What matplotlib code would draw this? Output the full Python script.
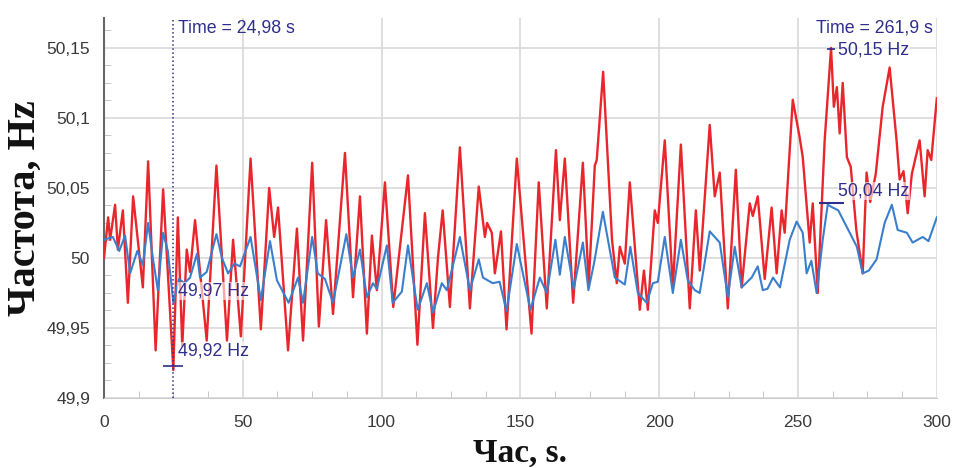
import numpy as np
import matplotlib
matplotlib.use("Agg")
import matplotlib.pyplot as plt
from matplotlib.ticker import MultipleLocator, FuncFormatter

# red trace (peaks / troughs)
t_red = [0.0, 1.5, 2.2, 4.0, 5.0, 6.8, 8.6, 10.5, 14.0, 15.9, 18.6, 21.3, 24.98, 26.6, 28.2, 29.8,
         31.0, 32.8, 37.0, 40.5, 44.3, 46.5, 49.3, 52.8, 56.5, 59.5, 61.3, 62.7, 66.3, 69.5, 71.7,
         75.0, 77.4, 80.0, 82.5, 86.8, 89.7, 92.2, 94.7, 96.5, 98.3, 101.2, 104.2, 109.5, 112.9,
         115.6, 118.5, 120.3, 122.0, 124.6, 128.2, 131.8, 135.0, 137.2, 138.0, 139.7, 140.8, 143.0,
         145.0, 148.7, 154.0, 156.6, 159.5, 162.8, 164.2, 166.0, 169.0, 172.5, 174.6, 176.8, 177.5,
         179.8, 183.0, 184.7, 185.8, 187.6, 189.4, 193.0, 194.5, 195.9, 198.4, 199.5, 202.0, 204.9,
         207.8, 211.0, 213.2, 214.6, 218.2, 220.0, 221.8, 224.7, 227.6, 229.7, 232.6, 233.7, 235.5,
         238.0, 240.5, 242.3, 244.1, 245.2, 248.1, 250.6, 251.7, 254.2, 255.3, 257.1, 259.6, 261.9,
         262.9, 264.0, 265.0, 266.1, 267.6, 269.0, 271.0, 273.3, 274.7, 276.0, 278.0, 280.5, 283.0,
         285.5, 286.6, 288.0, 289.5, 291.0, 293.8, 295.6, 296.7, 298.0, 300.0]
f_red = [50.000, 50.029, 50.013, 50.038, 50.006, 50.034, 49.968, 50.044, 49.979, 50.069, 49.934,
         50.049, 49.920, 50.029, 49.937, 50.006, 49.990, 50.027, 49.941, 50.066, 49.941, 50.013,
         49.944, 50.071, 49.949, 50.050, 50.015, 50.036, 49.934, 50.021, 49.941, 50.068, 49.951,
         50.027, 49.960, 50.075, 49.972, 50.044, 49.946, 50.016, 49.977, 50.054, 49.965, 50.059,
         49.938, 50.032, 49.950, 50.000, 50.034, 49.965, 50.079, 49.964, 50.051, 50.015, 50.025,
         50.018, 49.989, 50.019, 49.949, 50.071, 49.946, 50.054, 49.964, 50.077, 50.027, 50.071,
         49.968, 50.068, 49.981, 50.066, 50.070, 50.133, 50.013, 49.982, 50.008, 49.996, 50.054,
         49.963, 49.991, 49.963, 50.034, 50.025, 50.084, 49.979, 50.081, 49.964, 50.034, 49.991,
         50.095, 50.044, 50.061, 49.964, 50.063, 49.979, 50.039, 50.030, 50.044, 49.985, 50.036,
         49.989, 50.034, 50.018, 50.113, 50.086, 50.072, 50.011, 50.039, 49.975, 50.084, 50.150,
         50.108, 50.122, 50.089, 50.125, 50.072, 50.065, 50.020, 49.989, 50.061, 50.040, 50.060,
         50.108, 50.136, 50.084, 50.056, 50.062, 50.032, 50.060, 50.084, 50.044, 50.077, 50.070,
         50.114]

# blue trace
t_blue = [0.0, 3.2, 5.5, 7.6, 9.4, 12.0, 14.0, 15.9, 17.6, 19.4, 21.3, 23.0, 24.98, 27.0, 29.0, 31.0,
          33.5, 34.6, 37.0, 40.5, 42.5, 44.7, 47.0, 49.0, 52.8, 56.5, 59.8, 62.3, 66.5, 69.9, 71.7,
          75.0, 77.0, 79.6, 82.5, 87.3, 89.7, 92.2, 94.7, 96.9, 98.3, 101.9, 104.0, 107.3, 109.5,
          113.0, 116.3, 118.5, 121.7, 123.5, 128.2, 131.8, 135.0, 136.5, 140.0, 142.5, 145.0, 148.7,
          153.6, 157.0, 159.5, 162.6, 164.2, 166.0, 169.2, 172.5, 174.5, 176.5, 179.7, 184.0, 187.6,
          189.6, 192.3, 195.5, 197.7, 199.5, 202.0, 204.9, 207.8, 210.3, 212.8, 214.6, 218.2, 221.8,
          224.7, 227.2, 229.7, 233.3, 235.5, 237.3, 239.0, 241.0, 243.5, 247.0, 249.5, 251.7, 253.1,
          254.8, 256.7, 258.9, 260.7, 262.5, 264.5, 267.6, 271.2, 273.3, 275.5, 278.3, 281.2, 283.8,
          285.9, 289.2, 291.3, 294.9, 297.0, 300.0]
f_blue = [50.013, 50.015, 50.005, 50.016, 49.989, 50.005, 49.995, 50.025, 50.000, 49.977, 50.018,
          50.005, 49.968, 49.985, 49.982, 49.986, 50.003, 49.986, 49.990, 50.017, 50.000, 49.989,
          49.996, 49.994, 50.015, 49.970, 50.012, 49.984, 49.968, 49.986, 49.968, 50.015, 49.989,
          49.985, 49.968, 50.017, 49.986, 50.006, 49.972, 49.982, 49.978, 50.009, 49.968, 49.976,
          50.009, 49.963, 49.982, 49.961, 49.982, 49.977, 50.015, 49.977, 49.999, 49.986, 49.982,
          49.983, 49.962, 50.010, 49.963, 49.986, 49.975, 50.013, 49.988, 50.015, 49.978, 50.011,
          49.977, 49.996, 50.033, 49.986, 49.981, 50.008, 49.975, 49.968, 49.982, 49.983, 50.015,
          49.975, 50.013, 49.984, 49.977, 49.975, 50.019, 50.011, 49.972, 50.008, 49.979, 49.986,
          49.994, 49.977, 49.978, 49.986, 49.979, 50.013, 50.026, 50.018, 49.989, 49.998, 49.975,
          50.013, 50.038, 50.036, 50.034, 50.022, 50.008, 49.989, 49.991, 49.999, 50.025, 50.038,
          50.020, 50.018, 50.011, 50.015, 50.012, 50.029]

x_ticks = [0, 50, 100, 150, 200, 250, 300]
y_ticks = [49.9, 49.95, 50.0, 50.05, 50.1, 50.15]

navy = '#2e2e8c'
red = '#e8262b'
blue = '#3b7fcc'

fig = plt.figure(figsize=(9.54, 4.68), dpi=100)
ax = fig.add_axes([0.109, 0.1496, 0.873, 0.812])

ax.plot(t_red, f_red, color=red, lw=1.7, zorder=3, solid_joinstyle='round')
ax.plot(t_blue, f_blue, color=blue, lw=1.5, zorder=4, solid_joinstyle='round')

ax.set_xlim(0, 300)
ax.set_ylim(49.9, 50.1714)
ax.set_xticks(x_ticks)
ax.set_yticks(y_ticks)
ax.xaxis.set_minor_locator(MultipleLocator(12.5))
ax.yaxis.set_minor_locator(MultipleLocator(0.0125))

def comma(v, pos):
    s = ('%.2f' % v).rstrip('0').rstrip('.')
    return s.replace('.', ',')

ax.yaxis.set_major_formatter(FuncFormatter(comma))
ax.tick_params(axis='both', which='major', length=0, labelsize=12.5, labelcolor='#3a3a3a', pad=10)
ax.tick_params(axis='x', which='major', pad=12)
ax.tick_params(axis='both', which='minor', direction='in', length=5, color='#bbbbbb')
for lab in ax.get_xticklabels() + ax.get_yticklabels():
    lab.set_family('Liberation Sans')

ax.grid(True, which='major', color='#d9d9d9', lw=1.2, zorder=0)
for s in ['top', 'right']:
    ax.spines[s].set_visible(False)
ax.spines['left'].set_color('#666666')
ax.spines['left'].set_linewidth(1.5)
ax.spines['bottom'].set_color('#cccccc')

# cursor annotations
ax.axvline(24.98, color=navy, ls=':', lw=1.1, zorder=5)
ax.plot([24.98], [49.9225], marker='_', ms=14, color=navy, mew=1.2, zorder=6)
ax.plot([261.9], [50.149], marker='_', ms=6, color=navy, mew=1.2, zorder=6)
ax.plot([262.0], [50.039], marker='_', ms=18, color=navy, mew=1.5, zorder=6)

tfont = dict(family='Liberation Sans', fontsize=12.8, color=navy)
box = dict(facecolor='white', edgecolor='none', pad=0.5, alpha=0.6)
ax.text(26.5, 50.164, 'Time = 24,98 s', va='center', ha='left', **tfont)
ax.text(26.5, 49.9765, '49,97 Hz', va='center', ha='left', zorder=7, bbox=box, **tfont)
ax.text(26.5, 49.9335, '49,92 Hz', va='center', ha='left', zorder=7, bbox=box, **tfont)
ax.text(298.5, 50.164, 'Time = 261,9 s', va='center', ha='right', **tfont)
ax.text(264.5, 50.1485, '50,15 Hz', va='center', ha='left', zorder=7, bbox=box, **tfont)
ax.text(264.5, 50.048, '50,04 Hz', va='center', ha='left', zorder=7, bbox=box, **tfont)

lfont = dict(family='Liberation Serif', fontweight='bold', color='#111111')
ax.set_xlabel('Час, s.', labelpad=6, fontsize=24, **lfont)
ax.set_ylabel('Частота, Hz', labelpad=2, fontsize=29, **lfont)

fig.savefig('out.png', dpi=100)
